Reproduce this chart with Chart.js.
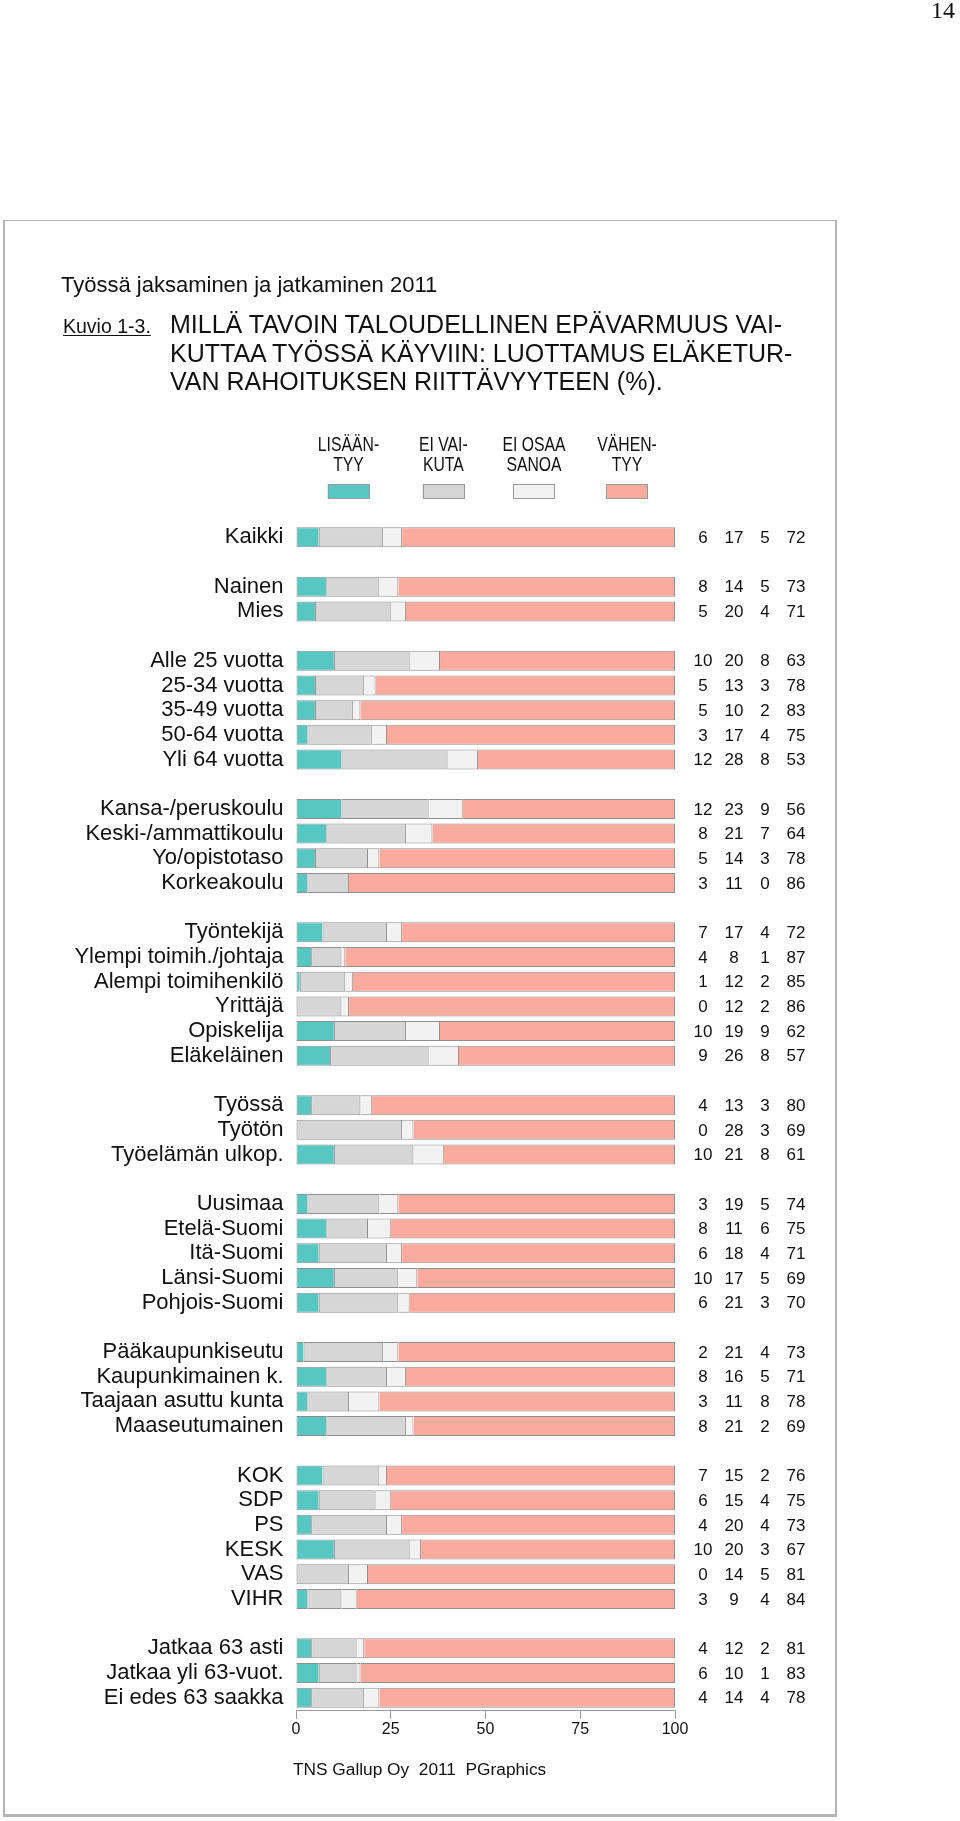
<!DOCTYPE html>
<html>
<head>
<meta charset="utf-8">
<script src="https://cdn.jsdelivr.net/npm/chart.js@4.4.1/dist/chart.umd.min.js"></script>
<style>
  html, body { margin: 0; padding: 0; background: #fff; }
  body { width: 960px; height: 1821px; position: relative; overflow: hidden;
         font-family: "Liberation Sans", Arial, Helvetica, sans-serif; color: #111; }
  #frame { position: absolute; left: 3px; top: 220px; width: 834px; height: 1597px;
           box-sizing: border-box; border: 2px solid #b4b4b4; border-top-width: 1px; border-bottom-width: 3px; }
  #c { position: absolute; left: 0; top: 0; }
  .t { position: absolute; white-space: pre; line-height: 1; }
  #pageno { font-family: "Liberation Serif", "Times New Roman", serif; font-size: 24px; right: 5px; top: -1.6px; }
  #sub { font-size: 22px; left: 61px; top: 273.9px; }
  #kuvio { font-size: 19.5px; left: 63px; top: 316.5px; text-decoration: underline; text-underline-offset: 2px; text-decoration-thickness: 1px; }
  #title { position: absolute; left: 170px; top: 310.1px; font-size: 25px; line-height: 28.5px; white-space: pre; }
  #footer { font-size: 17.3px; left: 293px; top: 1761px; }
</style>
</head>
<body>
<div id="frame"></div>
<canvas id="c" width="960" height="1821"></canvas>
<div class="t" id="pageno">14</div>
<div class="t" id="sub">Työssä jaksaminen ja jatkaminen 2011</div>
<div class="t" id="kuvio">Kuvio 1-3.</div>
<div id="title">MILLÄ TAVOIN TALOUDELLINEN EPÄVARMUUS VAI-
KUTTAA TYÖSSÄ KÄYVIIN: LUOTTAMUS ELÄKETUR-
VAN RAHOITUKSEN RIITTÄVYYTEEN (%).</div>
<div class="t" id="footer">TNS Gallup Oy  2011  PGraphics</div>
<script>
// ---------- data ----------
const categories = [
  'Kaikki', '',
  'Nainen', 'Mies', '',
  'Alle 25 vuotta', '25-34 vuotta', '35-49 vuotta', '50-64 vuotta', 'Yli 64 vuotta', '',
  'Kansa-/peruskoulu', 'Keski-/ammattikoulu', 'Yo/opistotaso', 'Korkeakoulu', '',
  'Työntekijä', 'Ylempi toimih./johtaja', 'Alempi toimihenkilö', 'Yrittäjä', 'Opiskelija', 'Eläkeläinen', '',
  'Työssä', 'Työtön', 'Työelämän ulkop.', '',
  'Uusimaa', 'Etelä-Suomi', 'Itä-Suomi', 'Länsi-Suomi', 'Pohjois-Suomi', '',
  'Pääkaupunkiseutu', 'Kaupunkimainen k.', 'Taajaan asuttu kunta', 'Maaseutumainen', '',
  'KOK', 'SDP', 'PS', 'KESK', 'VAS', 'VIHR', '',
  'Jatkaa 63 asti', 'Jatkaa yli 63-vuot.', 'Ei edes 63 saakka'
];
// printed percentages (numbers column)
const lisaantyy = [
  6, null,
  8, 5, null,
  10, 5, 5, 3, 12, null,
  12, 8, 5, 3, null,
  7, 4, 1, 0, 10, 9, null,
  4, 0, 10, null,
  3, 8, 6, 10, 6, null,
  2, 8, 3, 8, null,
  7, 6, 4, 10, 0, 3, null,
  4, 6, 4
];
const eiVaikuta = [
  17, null,
  14, 20, null,
  20, 13, 10, 17, 28, null,
  23, 21, 14, 11, null,
  17, 8, 12, 12, 19, 26, null,
  13, 28, 21, null,
  19, 11, 18, 17, 21, null,
  21, 16, 11, 21, null,
  15, 15, 20, 20, 14, 9, null,
  12, 10, 14
];
const eiOsaaSanoa = [
  5, null,
  5, 4, null,
  8, 3, 2, 4, 8, null,
  9, 7, 3, 0, null,
  4, 1, 2, 2, 9, 8, null,
  3, 3, 8, null,
  5, 6, 4, 5, 3, null,
  4, 5, 8, 2, null,
  2, 4, 4, 3, 5, 4, null,
  2, 1, 4
];
const vahentyy = [
  72, null,
  73, 71, null,
  63, 78, 83, 75, 53, null,
  56, 64, 78, 86, null,
  72, 87, 85, 86, 62, 57, null,
  80, 69, 61, null,
  74, 75, 71, 69, 70, null,
  73, 71, 78, 69, null,
  76, 75, 73, 67, 81, 84, null,
  81, 83, 78
];
// length of the VÄHENTYY bar segment as drawn in the picture (bars always reach 100)
const vahentyyBar = [
  72, null,
  73, 71, null,
  62, 79, 83, 76, 52, null,
  56, 64, 78, 86, null,
  72, 87, 85, 86, 62, 57, null,
  80, 69, 61, null,
  73, 75, 72, 68, 70, null,
  73, 71, 78, 69, null,
  76, 75, 72, 67, 81, 84, null,
  82, 83, 78
];
const seriesNames = [['LISÄÄN-', 'TYY'], ['EI VAI-', 'KUTA'], ['EI OSAA', 'SANOA'], ['VÄHEN-', 'TYY']];
const xTicks = [0, 25, 50, 75, 100];

// ---------- styles ----------
const FONT = '"Liberation Sans", Arial, Helvetica, sans-serif';
const colors = ['#56c7c3', '#d6d6d6', '#f2f2f2', '#fbab9e'];
const edge = '#8e8e8e';
const borders = [
  {top: 1, bottom: 1, left: 1, right: 0},
  {top: 1, bottom: 1, left: 1, right: 1},
  {top: 1, bottom: 1, left: 0, right: 1},
  {top: 1, bottom: 1, left: 0, right: 1}
];
const barValues = [lisaantyy, eiVaikuta, eiOsaaSanoa, vahentyyBar];
const printedValues = [lisaantyy, eiVaikuta, eiOsaaSanoa, vahentyy];

const datasets = barValues.map((vals, i) => ({
  label: seriesNames[i].join(' '),
  data: vals,
  backgroundColor: colors[i],
  borderColor: edge,
  borderWidth: borders[i],
  borderSkipped: false,
  barPercentage: 0.81,
  categoryPercentage: 1
}));

// numbers column to the right of the bars
const numberColumns = {
  id: 'numberColumns',
  afterDatasetsDraw(chart) {
    const ctx = chart.ctx;
    const ys = chart.scales.y;
    const colX = [703, 734, 765, 796];
    ctx.save();
    ctx.font = '17px ' + FONT;
    ctx.fillStyle = '#111';
    ctx.textAlign = 'center';
    ctx.textBaseline = 'middle';
    chart.data.labels.forEach((lab, i) => {
      printedValues.forEach((arr, d) => {
        const v = arr[i];
        if (v === null || v === undefined) return;
        ctx.fillText(String(v), colX[d], ys.getPixelForValue(i) + 1);
      });
    });
    ctx.restore();
  }
};

// legend: two-line label above a swatch
const topLegend = {
  id: 'topLegend',
  afterDraw(chart) {
    const ctx = chart.ctx;
    const centers = [348.5, 443.3, 534, 627];
    const sw = 41.5, sh = 15, sy = 484;
    ctx.save();
    chart.data.datasets.forEach((ds, i) => {
      const cx = centers[i];
      ctx.fillStyle = ds.backgroundColor;
      ctx.fillRect(cx - sw / 2, sy, sw, sh);
      ctx.strokeStyle = '#9a9a9a';
      ctx.lineWidth = 1;
      ctx.strokeRect(Math.round(cx - sw / 2) + 0.5, sy + 0.5, Math.round(sw) - 1, sh - 1);
      ctx.fillStyle = '#111';
      ctx.font = '21px ' + FONT;
      ctx.textAlign = 'center';
      ctx.textBaseline = 'alphabetic';
      seriesNames[i].forEach((line, k) => {
        ctx.save();
        ctx.translate(cx, 451 + k * 19.5);
        ctx.scale(0.75, 1);
        ctx.fillText(line, 0, 0);
        ctx.restore();
      });
    });
    ctx.restore();
  }
};

new Chart(document.getElementById('c'), {
  type: 'bar',
  data: { labels: categories, datasets },
  plugins: [numberColumns, topLegend],
  options: {
    responsive: false,
    animation: false,
    devicePixelRatio: 1,
    indexAxis: 'y',
    layout: { padding: { left: 0, right: 285, top: 525, bottom: 71 } },
    plugins: { legend: { display: false }, tooltip: { enabled: false } },
    scales: {
      x: {
        stacked: true, min: 0, max: 100, position: 'bottom',
        afterBuildTicks: s => { s.ticks = xTicks.map(v => ({ value: v })); },
        ticks: { autoSkip: false, maxRotation: 0, font: { family: FONT, size: 16 }, color: '#111', padding: 1 },
        grid: { display: true, drawOnChartArea: false, drawTicks: true, tickLength: 9, color: '#9a9a9a', lineWidth: 1 },
        border: { display: true, color: '#9a9a9a', width: 1 },
        afterFit: s => { s.height = 40; }
      },
      y: {
        stacked: true,
        ticks: { autoSkip: false, font: { family: FONT, size: 22 }, color: '#111', padding: 12.5 },
        grid: { display: false, drawTicks: false },
        border: { display: false },
        afterFit: s => { s.width = 296; }
      }
    }
  }
});
</script>
</body>
</html>
